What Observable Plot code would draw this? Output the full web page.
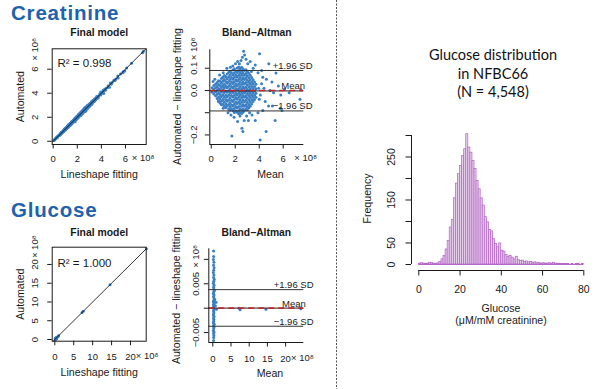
<!DOCTYPE html>
<html><head><meta charset="utf-8">
<script src="https://cdn.jsdelivr.net/npm/d3@7"></script>
<script src="https://cdn.jsdelivr.net/npm/@observablehq/plot@0.6"></script>
<style>
body{margin:0;background:#fff;}
#wrap{position:relative;width:600px;height:389px;overflow:hidden;background:#fff;}
#wrap svg{position:absolute;}
</style></head><body>
<div id="wrap">
<svg width="600" height="389" style="left:0;top:0">
  <text x="11" y="20" font-family="Liberation Sans, Arial, sans-serif" font-weight="bold" font-size="20.5" letter-spacing="0.8" fill="#1f62ad">Creatinine</text>
  <text x="11" y="217" font-family="Liberation Sans, Arial, sans-serif" font-weight="bold" font-size="20.5" letter-spacing="0.8" fill="#1f62ad">Glucose</text>
  <line x1="336.5" y1="0" x2="336.5" y2="389" stroke="#555" stroke-width="1" stroke-dasharray="2,1.5"/>
  <g font-family="Lato, 'Open Sans', sans-serif" font-size="14.5" fill="#111" text-anchor="middle">
    <text x="493" y="60">Glucose distribution</text>
    <text x="493" y="78.5">in NFBC66</text>
    <text x="493" y="97">(N = 4,548)</text>
  </g>
</svg>
</div>
<script>
// ---------------- DATA ----------------
// Creatinine, Bland–Altman cloud: [mean, [differences]] (×10^8)
const creatinineCore = [
  [0.08, [0.012, -0.008]],
  [0.22, [0.022, 0.004, -0.016]],
  [0.36, [0.028, 0.012, -0.006, -0.024]],
  [0.49, [0.036, 0.018, 0.001, -0.017, -0.036]],
  [0.61, [0.044, 0.027, 0.009, -0.011, -0.029, -0.046]],
  [0.73, [0.041, 0.022, 0.003, -0.018, -0.037, -0.056]],
  [0.85, [0.054, 0.033, 0.013, -0.007, -0.027, -0.048, -0.064]],
  [0.97, [0.06, 0.041, 0.021, 0.002, -0.019, -0.041, -0.062]],
  [1.09, [0.067, 0.049, 0.028, 0.011, -0.009, -0.031, -0.052, -0.071]],
  [1.21, [0.062, 0.04, 0.019, -0.002, -0.022, -0.041, -0.061, -0.078]],
  [1.33, [0.074, 0.053, 0.032, 0.012, -0.008, -0.028, -0.049, -0.07]],
  [1.45, [0.081, 0.061, 0.04, 0.019, -0.001, -0.021, -0.042, -0.063, -0.083]],
  [1.57, [0.086, 0.069, 0.049, 0.028, 0.008, -0.012, -0.033, -0.054, -0.073, -0.089]],
  [1.69, [0.079, 0.058, 0.038, 0.018, -0.003, -0.023, -0.044, -0.064, -0.082]],
  [1.81, [0.092, 0.071, 0.051, 0.031, 0.011, -0.009, -0.029, -0.05, -0.07, -0.091]],
  [1.93, [0.098, 0.079, 0.059, 0.039, 0.019, -0.001, -0.021, -0.041, -0.062, -0.081, -0.099]],
  [2.05, [0.088, 0.068, 0.048, 0.028, 0.009, -0.012, -0.032, -0.053, -0.072, -0.092]],
  [2.17, [0.101, 0.081, 0.061, 0.041, 0.021, 0.001, -0.019, -0.039, -0.059, -0.079, -0.098]],
  [2.29, [0.106, 0.089, 0.069, 0.049, 0.029, 0.009, -0.011, -0.031, -0.052, -0.072, -0.091, -0.105]],
  [2.41, [0.098, 0.078, 0.058, 0.038, 0.018, -0.002, -0.022, -0.042, -0.061, -0.082, -0.1]],
  [2.53, [0.104, 0.087, 0.068, 0.048, 0.028, 0.008, -0.012, -0.032, -0.052, -0.071, -0.089, -0.103]],
  [2.65, [0.097, 0.077, 0.057, 0.037, 0.017, -0.003, -0.023, -0.043, -0.063, -0.083, -0.098]],
  [2.77, [0.09, 0.069, 0.049, 0.029, 0.009, -0.011, -0.031, -0.051, -0.071, -0.09]],
  [2.89, [0.093, 0.076, 0.056, 0.036, 0.016, -0.004, -0.024, -0.044, -0.064, -0.083]],
  [3.01, [0.085, 0.066, 0.046, 0.026, 0.006, -0.014, -0.034, -0.054, -0.073, -0.088]],
  [3.13, [0.077, 0.057, 0.037, 0.017, -0.003, -0.023, -0.043, -0.063, -0.079]],
  [3.25, [0.068, 0.048, 0.028, 0.008, -0.012, -0.032, -0.052, -0.071]],
  [3.37, [0.058, 0.038, 0.018, -0.002, -0.022, -0.042, -0.061]],
  [3.49, [0.048, 0.029, 0.009, -0.011, -0.031, -0.05]],
  [3.61, [0.038, 0.018, -0.002, -0.022, -0.041]],
  [3.73, [0.028, 0.008, -0.012, -0.031]]
];
// Creatinine, sparse points: [mean, difference] (×10^8)
const creatinineOutliers = [
  [2.70,0.177],[2.78,0.160],[2.60,0.150],[2.48,0.135],[2.90,0.140],[4.03,0.165],[3.25,0.130],
  [3.67,0.115],[4.20,0.090],[4.80,0.120],[2.20,0.130],[2.02,0.120],[1.80,0.110],[3.05,0.120],
  [3.50,0.100],[3.90,0.080],[4.30,0.060],[4.60,0.050],[5.06,0.038],[5.40,0.079],[1.30,0.100],
  [1.00,0.080],[0.70,0.070],[0.30,0.050],[0.15,0.040],[3.35,0.085],[1.60,0.105],[2.35,0.12],
  [1.72,-0.205],[2.56,-0.170],[2.64,-0.185],[4.08,-0.223],[4.58,-0.185],[5.33,-0.135],[3.67,-0.135],
  [3.10,-0.135],[2.75,-0.135],[2.20,-0.140],[1.90,-0.120],[2.40,-0.115],[3.40,-0.110],[3.90,-0.100],
  [4.30,-0.090],[4.78,-0.070],[5.10,-0.070],[5.75,-0.080],[5.90,-0.090],[4.50,-0.050],[4.00,-0.040],
  [7.40,-0.040],[1.40,-0.100],[1.00,-0.080],[0.60,-0.050],[3.20,-0.1],[2.95,-0.115],[1.65,-0.11],
  [6.10,0.005],[6.50,-0.010],[7.48,0.003],[5.60,0.020],[5.80,-0.020],[4.90,0.000],[4.40,0.010],
  [5.20,-0.010],[4.10,-0.020],[4.20,0.030],[3.95,0.010]
];
const creatinineAgreement = [0.090, -0.092];   // +1.96 SD, -1.96 SD
const creatinineMeanDiff = [-0.002];
const creatinineR2 = "R² = 0.998";

// Glucose, Bland–Altman points: [mean, difference] (×10^8)
const glucosePoints = [
  [0.20,0.0117],[0.25,0.0106],[0.15,0.0100],[0.30,0.0094],[0.20,0.0088],[0.35,0.0083],[0.25,0.0078],
  [0.15,0.0073],[0.30,0.0068],[0.20,0.0063],[0.40,0.0059],[0.25,0.0055],[0.15,0.0051],[0.35,0.0047],
  [0.20,0.0043],[0.30,0.0039],[0.45,0.0036],[0.25,0.0033],[0.15,0.0030],[0.35,0.0027],[0.20,0.0024],
  [0.30,0.0021],[0.55,0.0018],[0.25,0.0016],[0.15,0.0013],[0.40,0.0011],[0.20,0.0008],[0.30,0.0006],
  [0.25,0.0003],[0.15,0.0001],[0.35,-0.0002],[0.20,-0.0005],[0.30,-0.0008],[0.25,-0.0011],[0.15,-0.0014],
  [0.35,-0.0017],[0.20,-0.0020],[0.30,-0.0023],[0.25,-0.0027],[0.15,-0.0030],[0.40,-0.0033],[0.20,-0.0036],
  [0.30,-0.0039],[0.25,-0.0042],[0.15,-0.0046],[0.35,-0.0049],[0.20,-0.0052],[0.30,-0.0056],[0.25,-0.0060],
  [0.20,-0.0066],[0.90,0.0012],[1.00,-0.0002],[0.70,0.0005],[7.20,0.0000],[7.50,-0.0003],[14.60,-0.0002],[24.20,-0.0001]
];
const glucoseAgreement = [0.0038, -0.0037];
const glucoseMeanDiff = [0.00002];
const glucoseR2 = "R² = 1.000";

// Glucose distribution histogram, counts per 1-unit bin from 0 to 80
const glucoseCounts = [
  2,3,2,1,2,4,3,2,1,3,
  6,12,20,35,55,86,104,154,188,210,
  229,252,268,303,272,260,241,222,194,175,
  154,137,110,98,80,77,59,48,40,49,
  32,30,22,18,20,16,12,18,10,8,
  9,6,7,5,6,4,5,3,4,2,
  3,2,2,3,2,4,2,1,1,1,
  1,1,1,0,1,0,1,1,0,1
];

// Ticks and labels
const creatinineTicks = [0, 2, 4, 6];
const creatinineBATicksX = [0, 2, 4, 6];
const creatinineBATicksY = [0.1, 0, -0.1, -0.2];
const creatinineBALabelsY = ["0.1", "0.0", "", "−0.2"];
const glucoseTicks = [0, 5, 10, 15, 20];
const glucoseBATicksY = [0.01, 0.005, 0, -0.005];
const glucoseBALabelsY = ["", "0.005", "", "−0.005"];
const histTicksX = [0, 20, 40, 60, 80];
const histTicksY = [0, 50, 100, 150, 200, 250, 300];
const histLabelsY = ["0", "50", "", "150", "", "250", ""];
const MULT = "× 10⁸";
const agreementLabels = ["+1.96 SD", "−1.96 SD"];

// ---------------- DRAWING ----------------
const wrap = document.getElementById("wrap");
const FONT = '"Liberation Sans", Arial, Helvetica, sans-serif';
const BLUE = "#3a7fc3";
const INK = "#1a1a1a";
const baseStyle = {fontFamily: FONT, background: "transparent", overflow: "visible", color: INK};
function place(el, left, top) { el.style.left = left + "px"; el.style.top = top + "px"; wrap.appendChild(el); }

const creatBA = creatinineCore.flatMap(([m, ds]) => ds.map(d => ({mean: m, diff: d})))
  .concat(creatinineOutliers.map(([m, d]) => ({mean: m, diff: d})));
const creatScatter = creatBA.map(p => ({lineshape: p.mean - p.diff / 2, automated: p.mean + p.diff / 2}));
const glucBA = glucosePoints.map(([m, d]) => ({mean: m, diff: d}));
const glucScatter = glucBA.map(p => ({lineshape: p.mean - p.diff / 2, automated: p.mean + p.diff / 2}));
const histBins = glucoseCounts.map((c, i) => ({x1: i, x2: i + 1, count: c}));

const TICK = 9.5, LAB = 10.6;
function ticksX(values, size) { return Plot.axisX({ticks: values, tickSize: size, tickFormat: () => "", label: null, stroke: INK}); }
function ticksY(values, size) { return Plot.axisY({ticks: values, tickSize: size, tickFormat: () => "", label: null, stroke: INK}); }
function labelsX(values, labels, dy, fs = TICK) {
  return Plot.text(values, {x: d => d, text: (d, i) => labels[i], frameAnchor: "bottom", dy, textAnchor: "middle", lineAnchor: "middle", fontSize: fs, fill: INK});
}
function labelsY(values, labels, dx, fs = TICK) {
  return Plot.text(values, {y: d => d, text: (d, i) => labels[i], frameAnchor: "left", dx, rotate: -90, textAnchor: "middle", lineAnchor: "middle", fontSize: fs, fill: INK});
}
function note(str, o) { return Plot.text([str], {text: d => d, textAnchor: "middle", lineAnchor: "middle", fill: INK, ...o}); }
function multY(value, dx, anchor) {
  return Plot.text([value], {y: d => d, text: () => MULT, frameAnchor: "left", dx, rotate: -90, textAnchor: anchor, lineAnchor: "middle", fontSize: TICK, fill: INK});
}
function multX(value, dy, anchor) {
  return Plot.text([value], {x: d => d, text: () => MULT, frameAnchor: "bottom", dy, textAnchor: anchor, lineAnchor: "middle", fontSize: TICK, fill: INK});
}
function diagonal(dx, dy) { return [Math.max(dx[0], dy[0]), Math.min(dx[1], dy[1])]; }

// Panel 1: creatinine scatter
const cX = [-0.08, 7.72], cY = [-0.27, 7.7];
place(Plot.plot({
  width: 168, height: 188, marginLeft: 51.7, marginRight: 22.3, marginTop: 48.3, marginBottom: 44,
  style: baseStyle,
  x: {domain: cX, label: null}, y: {domain: cY, label: null},
  marks: [
    Plot.dot(creatScatter, {x: "lineshape", y: "automated", r: 1.5, fill: BLUE}),
    Plot.line(diagonal(cX, cY), {x: d => d, y: d => d, stroke: "#000", strokeWidth: 0.8}),
    Plot.frame({stroke: INK}),
    ticksX(creatinineTicks, 4.5), ticksY(creatinineTicks, 4.5),
    labelsX(creatinineTicks, creatinineTicks.map(String), 14),
    labelsY(creatinineTicks, creatinineTicks.map(String), -17.5),
    multX(7.46, 13, "middle"),
    multY(7.65, -17.5, "middle"),
    note("Final model", {frameAnchor: "top", dy: -16, fontWeight: "bold", fontSize: 10.4}),
    note("Automated", {frameAnchor: "left", dx: -31.7, rotate: -90, fontSize: LAB}),
    note("Lineshape fitting", {frameAnchor: "bottom", dy: 30, fontSize: LAB}),
    note(creatinineR2, {frameAnchor: "top-left", dx: 5.3, dy: 15, textAnchor: "start", fontSize: 11.5})
  ]
}), 0, 0);

// Panel 2: creatinine Bland–Altman
const bX = [-0.12, 7.72], bY = [-0.243, 0.183];
place(Plot.plot({
  width: 168, height: 188, marginLeft: 41.3, marginRight: 32.7, marginTop: 49.3, marginBottom: 44,
  style: baseStyle,
  x: {domain: bX, label: null}, y: {domain: bY, label: null},
  marks: [
    Plot.dot(creatBA, {x: "mean", y: "diff", r: 1.5, fill: BLUE}),
    Plot.ruleY(creatinineAgreement, {stroke: "#333", strokeWidth: 1}),
    Plot.ruleY(creatinineMeanDiff, {stroke: "#222", strokeWidth: 1}),
    Plot.ruleY([0], {stroke: "#c0272d", strokeWidth: 1.7, strokeDasharray: "6,4"}),
    Plot.text(creatinineAgreement, {y: d => d, text: (d, i) => agreementLabels[i], frameAnchor: "right", dx: 8.7, dy: -4.5, textAnchor: "end", lineAnchor: "middle", fontSize: 9.5, fill: INK}),
    Plot.text(creatinineMeanDiff, {y: d => d, text: () => "Mean", frameAnchor: "right", dx: 1.3, dy: -4.5, textAnchor: "end", lineAnchor: "middle", fontSize: 9.5, fill: INK}),
    Plot.ruleX([bX[0]], {stroke: INK}), Plot.ruleY([bY[0]], {stroke: INK}),
    ticksX(creatinineBATicksX, 4.5), ticksY(creatinineBATicksY, 4.5),
    labelsX(creatinineBATicksX, creatinineBATicksX.map(String), 14),
    labelsY(creatinineBATicksY, creatinineBALabelsY, -15.5),
    multX(7.88, 13, "middle"),
    multY(0.187, -15.5, "middle"),
    note("Bland−Altman", {frameAnchor: "top", dy: -17, fontWeight: "bold", fontSize: 10.3}),
    note("Automated − lineshape fitting", {frameAnchor: "left", dx: -32.3, dy: -0.7, rotate: -90, fontSize: LAB}),
    note("Mean", {frameAnchor: "bottom", dx: 13.7, dy: 30, fontSize: LAB})
  ]
}), 168, 0);

// Panel 3: glucose scatter
const gX = [-0.69, 24.15], gY = [-0.45, 24.6];
place(Plot.plot({
  width: 168, height: 194, marginLeft: 51.7, marginRight: 22.3, marginTop: 51.7, marginBottom: 48.3,
  style: baseStyle,
  x: {domain: gX, label: null}, y: {domain: gY, label: null},
  marks: [
    Plot.dot(glucScatter, {x: "lineshape", y: "automated", r: 1.5, fill: BLUE}),
    Plot.line(diagonal(gX, gY), {x: d => d, y: d => d, stroke: "#000", strokeWidth: 0.8}),
    Plot.frame({stroke: INK}),
    ticksX(glucoseTicks, 4.5), ticksY(glucoseTicks, 4.5),
    labelsX(glucoseTicks, glucoseTicks.map(String), 16),
    labelsY(glucoseTicks, glucoseTicks.map(String), -17.5),
    multX(21.4, 15, "start"),
    multY(21.7, -17.5, "start"),
    note("Final model", {frameAnchor: "top", dy: -15, fontWeight: "bold", fontSize: 10.4}),
    note("Automated", {frameAnchor: "left", dx: -31.7, rotate: -90, fontSize: LAB}),
    note("Lineshape fitting", {frameAnchor: "bottom", dy: 31.5, fontSize: LAB}),
    note(glucoseR2, {frameAnchor: "top-left", dx: 5.3, dy: 16.3, textAnchor: "start", fontSize: 11.5})
  ]
}), 0, 195);

// Panel 4: glucose Bland–Altman
const hX = [-1.1, 25.0], hY = [-0.00703, 0.01217];
place(Plot.plot({
  width: 168, height: 194, marginLeft: 40.3, marginRight: 32.7, marginTop: 53.3, marginBottom: 47,
  style: baseStyle,
  x: {domain: hX, label: null}, y: {domain: hY, label: null},
  marks: [
    Plot.dot(glucBA, {x: "mean", y: "diff", r: 1.5, fill: BLUE}),
    Plot.ruleY(glucoseAgreement, {stroke: "#333", strokeWidth: 1}),
    Plot.ruleY(glucoseMeanDiff, {stroke: "#222", strokeWidth: 1}),
    Plot.ruleY([0], {stroke: "#c0272d", strokeWidth: 1.7, strokeDasharray: "6,4"}),
    Plot.text(glucoseAgreement, {y: d => d, text: (d, i) => agreementLabels[i], frameAnchor: "right", dx: 9.7, dy: -4.3, textAnchor: "end", lineAnchor: "middle", fontSize: 9.5, fill: INK}),
    Plot.text(glucoseMeanDiff, {y: d => d, text: () => "Mean", frameAnchor: "right", dx: 2, dy: -4.4, textAnchor: "end", lineAnchor: "middle", fontSize: 9.5, fill: INK}),
    Plot.ruleX([hX[0]], {stroke: INK}), Plot.ruleY([hY[0]], {stroke: INK}),
    ticksX(glucoseTicks, 4.5), ticksY(glucoseBATicksY, 4.5),
    labelsX(glucoseTicks, glucoseTicks.map(String), 16),
    labelsY(glucoseBATicksY, glucoseBALabelsY, -13),
    multX(21.5, 15, "start"),
    multY(0.0106, -13, "middle"),
    note("Bland−Altman", {frameAnchor: "top", dy: -16.5, fontWeight: "bold", fontSize: 10.3}),
    note("Automated − lineshape fitting", {frameAnchor: "left", dx: -32.3, rotate: -90, fontSize: LAB}),
    note("Mean", {frameAnchor: "bottom", dx: 13.7, dy: 31.3, fontSize: LAB})
  ]
}), 168, 195);

// Panel 5: glucose distribution histogram
const kX = [-3.54, 83.25], kY = [-13.95, 311.6];
const PURPLE = "#b468c6", LILAC = "#e6cfeb";
place(Plot.plot({
  width: 260, height: 230, marginLeft: 71, marginRight: 10, marginTop: 20, marginBottom: 70,
  style: baseStyle,
  x: {domain: kX, label: null}, y: {domain: kY, label: null},
  marks: [
    Plot.rectY(histBins, {x1: "x1", x2: "x2", y: "count", fill: LILAC, stroke: PURPLE, strokeWidth: 0.75}),
    Plot.ruleY([0], {x1: histTicksX[0], x2: histTicksX[histTicksX.length - 1], stroke: PURPLE}),
    Plot.ruleX([kX[0]], {y1: histTicksY[0], y2: histTicksY[histTicksY.length - 1], stroke: INK}),
    Plot.ruleY([kY[0]], {x1: histTicksX[0], x2: histTicksX[histTicksX.length - 1], stroke: INK}),
    ticksX(histTicksX, 5.5), ticksY(histTicksY, 5.5),
    labelsX(histTicksX, histTicksX.map(String), 19, 10.5),
    labelsY(histTicksY, histLabelsY, -19.5, 10.5),
    note("Frequency", {frameAnchor: "left", dx: -44, dy: -2, rotate: -90, fontSize: LAB}),
    note("Glucose", {frameAnchor: "bottom", dy: 38, fontSize: LAB}),
    note("(μM/mM creatinine)", {frameAnchor: "bottom", dy: 50, fontSize: LAB})
  ]
}), 340, 110);
</script>
</body></html>
